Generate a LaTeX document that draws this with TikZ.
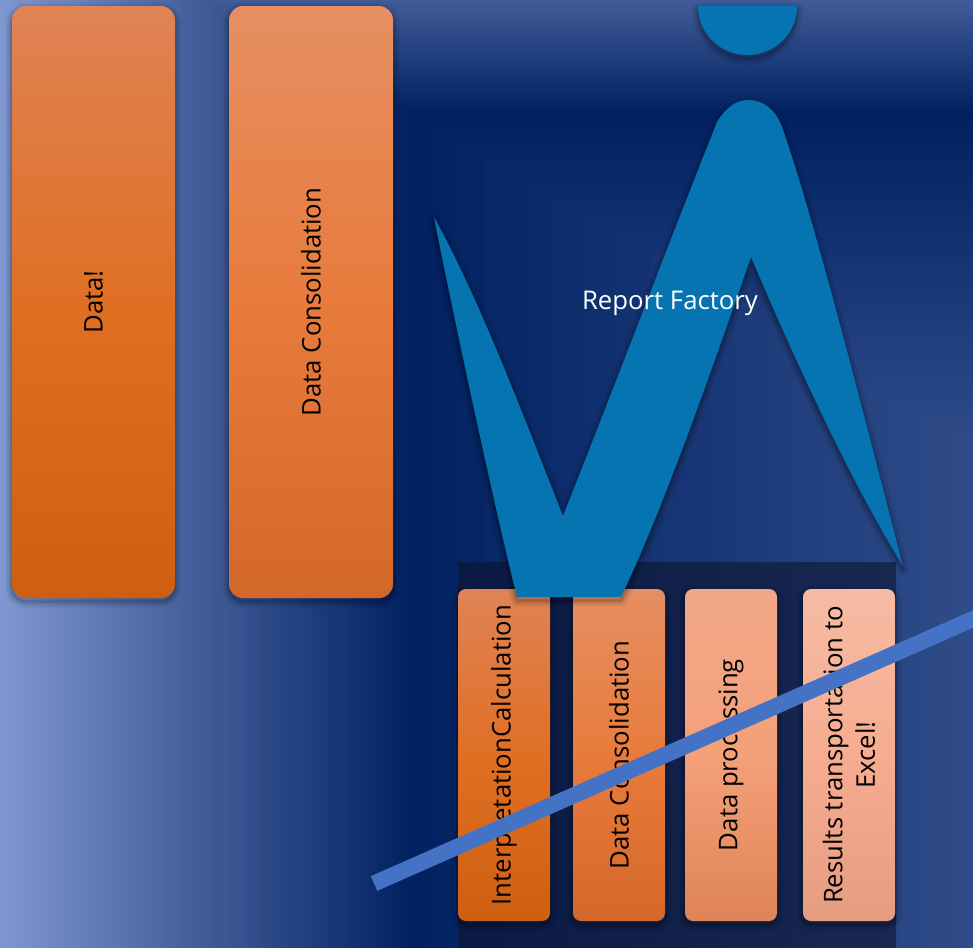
\documentclass[tikz,border=0pt]{standalone}
\usepackage{fontspec}
\setmainfont{Open Sans}
\definecolor{bgdark}{HTML}{002060}
\definecolor{bglight}{HTML}{7F97D0}
\definecolor{shapeblue}{HTML}{0674B0}
\definecolor{slash}{HTML}{4472C4}
\definecolor{panelL}{HTML}{0A1A44}
\definecolor{panelR}{HTML}{182850}
\newcommand{\barfont}{\fontsize{19.3}{24}\selectfont}
\tikzset{
  softshadow/.style={
    preaction={draw=black,draw opacity=.035,line width=10pt,line join=round,transform canvas={yshift=-2.5pt}},
    preaction={draw=black,draw opacity=.05,line width=7.5pt,line join=round,transform canvas={yshift=-2.5pt}},
    preaction={draw=black,draw opacity=.06,line width=5pt,line join=round,transform canvas={yshift=-2.5pt}},
    preaction={draw=black,draw opacity=.08,line width=3pt,line join=round,transform canvas={yshift=-2.5pt}},
    preaction={draw=black,draw opacity=.08,line width=1.2pt,line join=round,transform canvas={yshift=-2.5pt}}},
  barbox/.style n args={5}{rectangle,rounded corners=#1*0.75pt,inner sep=0pt,text=black,
    minimum width=#2*0.75pt,minimum height=#3*0.75pt,align=center,
    top color=#4,bottom color=#5,softshadow},
  barA/.style={middle color=barAm},
  barB/.style={middle color=barBm},
  barC/.style={middle color=barCm},
  barD/.style={middle color=barDm},
  wlabel/.style={font=\barfont,text=white,inner sep=0pt},
  blueshape/.style={fill=shapeblue,softshadow},
  slashline/.style={draw=slash,line width=16*0.75pt}
}
\definecolor{barAt}{HTML}{E08356}\definecolor{barAm}{HTML}{E06F24}\definecolor{barAb}{HTML}{CE5F10}
\definecolor{barBt}{HTML}{E68F63}\definecolor{barBm}{HTML}{E87B3C}\definecolor{barBb}{HTML}{D4682A}
\definecolor{barCt}{HTML}{F2A888}\definecolor{barCm}{HTML}{F4A078}\definecolor{barCb}{HTML}{DF8358}
\definecolor{barDt}{HTML}{F6BBA5}\definecolor{barDm}{HTML}{F6AC90}\definecolor{barDb}{HTML}{E59C80}
\begin{document}
\begin{tikzpicture}[x=0.75pt,y=-0.75pt]
\useasboundingbox (0,0) rectangle (973,947);
\clip (0,0) rectangle (973,947);
% background: nested L-shaped regions
\fill[bgdark] (0,0) rectangle (973,947);
\foreach \i in {128,127,...,0}{
  \pgfmathsetmacro\t{\i/128}
  \pgfmathsetmacro\p{100*\t}
  \pgfmathsetmacro\xl{412-412*\t}
  \pgfmathsetmacro\yt{114-228*\t}
  \pgfmathsetmacro\xr{412+1530*\t}
  \pgfmathsetmacro\yl{114+900*\t}
  \fill[bglight!\p!bgdark] (\xl,\yt) -- (2000,\yt) -- (2000,\yl) -- (\xr,\yl) -- (\xr,1100) -- (\xl,1100) -- cycle;
}
% upper bars
\node[barbox={14}{163}{592}{barAt}{barAb},barA] (data) at (93.5,302) {\rotatebox{90}{\barfont Data!}};
\node[barbox={14}{164}{592}{barBt}{barBb},barB] (cons) at (311,302) {\rotatebox{90}{\barfont Data Consolidation}};
% panel
\shade[left color=panelL,right color=panelR] (458,562) rectangle (896,947);
\node[barbox={8}{92}{332}{barAt}{barAb},barA] (interp) at (504,755) {\rotatebox{90}{\barfont InterpretationCalculation}};
\node[barbox={8}{92}{332}{barBt}{barBb},barB] (cons2) at (619,755) {\rotatebox{90}{\barfont Data Consolidation}};
\node[barbox={8}{92}{332}{barCt}{barCb},barC] (proc) at (731,755) {\rotatebox{90}{\barfont Data processing}};
\node[barbox={8}{92}{332}{barDt}{barDb},barD] (results) at (849,755) {\rotatebox{90}{\parbox{240pt}{\centering\fontsize{19.3}{24.5}\selectfont Results transportation to\\Excel!}}};
% blue figure
\path[blueshape] (698,6) arc[start angle=180,end angle=360,x radius=49.5,y radius=-49] -- cycle;
\path[blueshape] (434,217)
  .. controls (480,300) and (525,420) .. (563,516)
  .. controls (615,385) and (668,245) .. (717,122)
  .. controls (727,106) and (737,100) .. (748,100)
  .. controls (762,100) and (775,108) .. (782,127)
  .. controls (815,220) and (870,440) .. (903,566)
  .. controls (850,480) and (795,360) .. (751,257)
  .. controls (715,360) and (665,505) .. (621,597)
  -- (517,597)
  .. controls (495,510) and (450,300) .. (434,217) -- cycle;
\node[wlabel] (report) at (670,303) {Report Factory};
% diagonal
\coordinate (slashA) at (374,883.5);
\coordinate (slashB) at (990,611.5);
\draw[slashline] (slashA) -- (slashB);
\end{tikzpicture}
\end{document}
